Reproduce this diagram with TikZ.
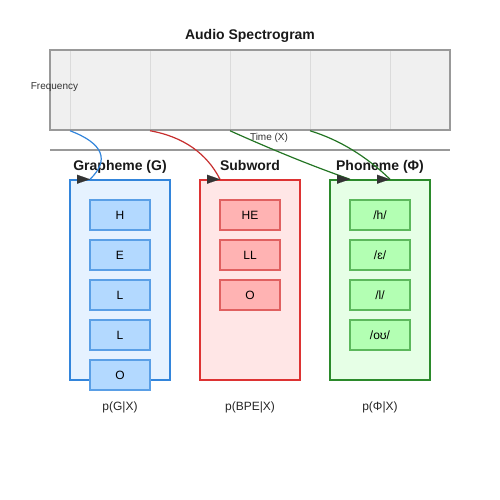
\documentclass[tikz,border=0pt]{standalone}
\usepackage{fontspec}
\setmainfont{Liberation Sans}
\usetikzlibrary{positioning,arrows.meta}

\definecolor{gline}{HTML}{3385DB}
\definecolor{gfill}{HTML}{E6F2FF}
\definecolor{gbfill}{HTML}{B3D9FF}
\definecolor{gbline}{HTML}{5A9FE6}
\definecolor{sline}{HTML}{DD3333}
\definecolor{sfill}{HTML}{FFE6E6}
\definecolor{sbfill}{HTML}{FFB3B3}
\definecolor{sbline}{HTML}{E06060}
\definecolor{pline}{HTML}{2B8A2B}
\definecolor{pfill}{HTML}{E6FFE6}
\definecolor{pbfill}{HTML}{B3FFB3}
\definecolor{pbline}{HTML}{5CB85C}

\tikzstyle{title} = [font=\bfseries\fontsize{14}{16}\selectfont, text=black!90, anchor=base, inner sep=0pt]
\tikzstyle{axis} = [font=\fontsize{10}{12}\selectfont, text=black!80, anchor=base, inner sep=0pt]
\tikzstyle{spectrogram} = [rectangle, minimum width=400pt, minimum height=80pt, draw=black!40, fill=black!6, line width=1.5pt]
\tikzstyle{panel} = [rectangle, minimum width=100pt, minimum height=200pt, line width=1.5pt]
\tikzstyle{token} = [rectangle, minimum width=60pt, minimum height=30pt, inner sep=0pt, line width=1.2pt, font=\fontsize{12}{14}\selectfont]
\tikzstyle{prob} = [font=\fontsize{12}{14}\selectfont, text=black!85, anchor=base, inner sep=0pt]
\tikzstyle{curve} = [line width=1.2pt]
\tikzstyle{head} = [-{Triangle[length=13pt,width=9pt]}, line width=0.1pt, black!80]

\begin{document}
\begin{tikzpicture}[x=1pt, y=-1pt, node distance=40pt]
	\useasboundingbox (0,0) rectangle (500,500);
	% Place nodes
	\node [title] (SpecTitle) at (250,40) {Audio Spectrogram};
	\node [spectrogram] (Spec) at (250,90) {};
	\foreach \x in {70,150,230,310,390}
		\draw [black!14, line width=1pt] (\x,51) -- (\x,129);
	\node [axis] (Freq) at (54.5,90) {Frequency};
	\node [axis] (Time) at (269,140) {Time (X)};
	\draw [black!40, line width=2pt] (50,150) -- (450,150);

	\node [title] (GraphemeTitle) at (120,170) {Grapheme (G)};
	\node [title] (SubwordTitle) at (250,170) {Subword};
	\node [title] (PhonemeTitle) at (380,170) {Phoneme (Φ)};

	\node [panel, draw=gline, fill=gfill] (Grapheme) at (120,280) {};
	\node [panel, draw=sline, fill=sfill] (Subword) at (250,280) {};
	\node [panel, draw=pline, fill=pfill] (Phoneme) at (380,280) {};

	\node [token, draw=gbline, fill=gbfill] (G1) at (120,215) {H};
	\node [token, draw=gbline, fill=gbfill, below of=G1] (G2) {E};
	\node [token, draw=gbline, fill=gbfill, below of=G2] (G3) {L};
	\node [token, draw=gbline, fill=gbfill, below of=G3] (G4) {L};
	\node [token, draw=gbline, fill=gbfill, below of=G4] (G5) {O};

	\node [token, draw=sbline, fill=sbfill] (S1) at (250,215) {HE};
	\node [token, draw=sbline, fill=sbfill, below of=S1] (S2) {LL};
	\node [token, draw=sbline, fill=sbfill, below of=S2] (S3) {O};

	\node [token, draw=pbline, fill=pbfill] (P1) at (380,215) {/h/};
	\node [token, draw=pbline, fill=pbfill, below of=P1] (P2) {/ɛ/};
	\node [token, draw=pbline, fill=pbfill, below of=P2] (P3) {/l/};
	\node [token, draw=pbline, fill=pbfill, below of=P3] (P4) {/oʊ/};

	\node [prob] (GraphemeProb) at (120,410) {p(G|X)};
	\node [prob] (SubwordProb) at (250,410) {p(BPE|X)};
	\node [prob] (PhonemeProb) at (380,410) {p(Φ|X)};

	% Frame ends
	\coordinate (GStart) at ([xshift=-180pt]Spec.south);
	\coordinate (SStart) at ([xshift=-100pt]Spec.south);
	\coordinate (PStartA) at ([xshift=-20pt]Spec.south);
	\coordinate (PStartB) at ([xshift=60pt]Spec.south);
	\coordinate (GEnd) at ([xshift=-30pt]Grapheme.north);
	\coordinate (SEnd) at ([xshift=-30pt]Subword.north);
	\coordinate (PEndA) at ([xshift=-30pt]Phoneme.north);
	\coordinate (PEndB) at ([xshift=10pt]Phoneme.north);

	% Draw edges
	\draw [curve, gline] (GStart) .. controls (103.3,143.3) and (110,160) .. (GEnd);
	\draw [curve, sline!90!black] (SStart) .. controls (183.3,136.7) and (206.7,153.3) .. (SEnd);
	\draw [curve, pline!85!black] (PStartA) .. controls (270,148.7) and (310,165.3) .. (PEndA);
	\draw [curve, pline!85!black] (PStartB) .. controls (340,140) and (366.7,156.7) .. (PEndB);
	\draw [head] ([xshift=-13pt]GEnd) -- (GEnd);
	\draw [head] ([xshift=-13pt]SEnd) -- (SEnd);
	\draw [head] ([xshift=-13pt]PEndA) -- (PEndA);
	\draw [head] ([xshift=-13pt]PEndB) -- (PEndB);
\end{tikzpicture}
\end{document}
